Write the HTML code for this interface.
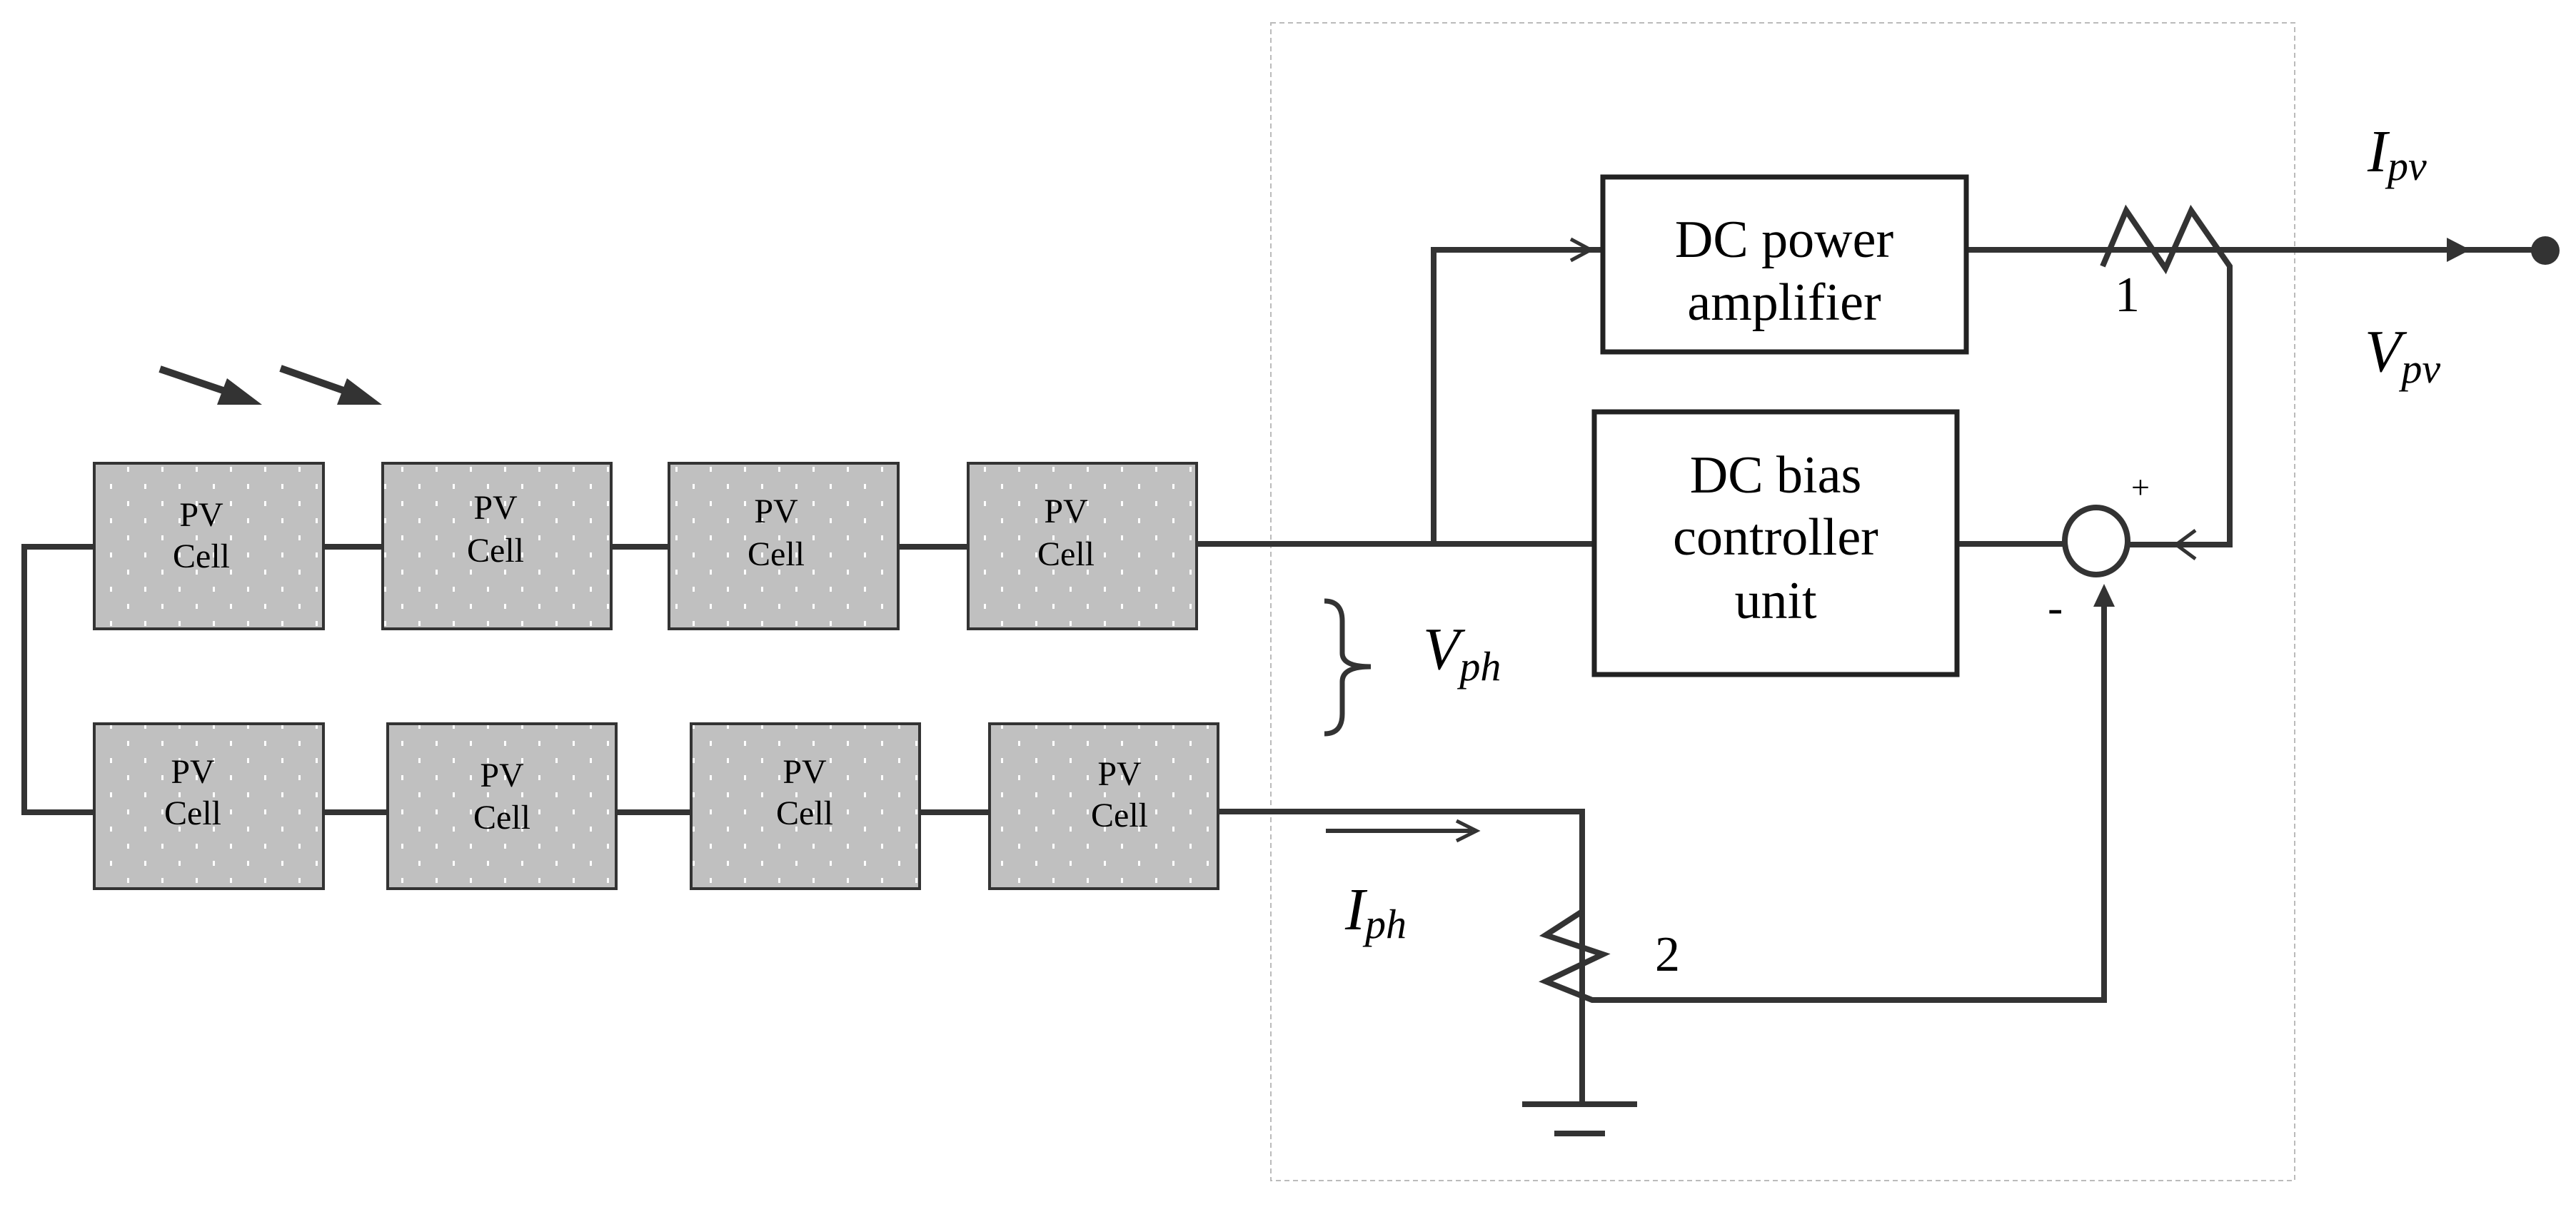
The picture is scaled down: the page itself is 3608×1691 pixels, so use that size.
<!DOCTYPE html>
<html><head><meta charset="utf-8"><style>
html,body{margin:0;padding:0;background:#fff;}
svg{display:block;}
text{font-family:"Liberation Serif",serif;fill:#000;}
</style></head><body>
<svg width="3608" height="1691" viewBox="0 0 3608 1691" xmlns="http://www.w3.org/2000/svg">
<defs>
<pattern id="dots" width="48" height="48" patternUnits="userSpaceOnUse" x="0" y="0">
<rect width="48" height="48" fill="#c0c0c0"/>
<rect x="10" y="6" width="3" height="7" fill="#fff"/>
<rect x="34" y="30" width="3" height="7" fill="#fff"/>
</pattern>
</defs>
<rect x="1780" y="32" width="1434" height="1622" fill="none" stroke="#bbb" stroke-width="2" stroke-dasharray="7,5"/>

<g stroke="#333" stroke-width="8" fill="none">
<polyline points="132,766 34,766 34,1138 132,1138"/>
<line x1="453" y1="766" x2="536" y2="766"/>
<line x1="856" y1="766" x2="937" y2="766"/>
<line x1="1258" y1="766" x2="1356" y2="766"/>
<line x1="1676" y1="762" x2="2233" y2="762"/>
<line x1="453" y1="1138" x2="543" y2="1138"/>
<line x1="863" y1="1138" x2="968" y2="1138"/>
<line x1="1288" y1="1138" x2="1386" y2="1138"/>
<polyline points="1706,1137 2216,1137 2216,1547"/>
<line x1="2132" y1="1547" x2="2293" y2="1547"/>
<line x1="2177" y1="1588" x2="2248" y2="1588"/>
<polyline points="2216,1277 2165,1310 2245,1337 2165,1375 2230,1401 2947,1401 2947,830"/>
<polyline points="2008,762 2008,350 2245,350"/>
<line x1="2754" y1="350" x2="3560" y2="350"/>
<polyline points="2945,373 2978,295 3033,376 3069,295 3123,373 3123,763 2982,763"/>
<line x1="2741" y1="762" x2="2889" y2="762"/>
<ellipse cx="2936" cy="758" rx="44" ry="47"/>
<line x1="1857" y1="1164" x2="2062" y2="1164" stroke-width="6"/>
<path d="M1855,842 Q1880,842 1880,870 L1880,915 Q1880,934 1920,934 Q1880,934 1880,955 L1880,1000 Q1880,1028 1855,1028" stroke-width="7"/>
</g>
<g stroke="#333" stroke-width="5" fill="none">
<polyline points="2200,335 2228,350 2200,365"/>
<polyline points="3075,743 3048,763 3075,783"/>
<polyline points="2040,1150 2068,1164 2040,1178"/>
</g>
<polygon points="3427,333 3460,350 3427,367" fill="#333"/>
<circle cx="3565" cy="351" r="20" fill="#333"/>
<polygon points="2947,818 2932,850 2962,850" fill="#333"/>
<g stroke="#333" stroke-width="10"><line x1="224" y1="517" x2="330" y2="553"/><line x1="393" y1="516" x2="498" y2="553"/></g>
<polygon points="367,567 318,530 304,567" fill="#333"/>
<polygon points="535,567 486,530 472,567" fill="#333"/>

<rect x="2245" y="248" width="509" height="245" fill="#fff" stroke="#222" stroke-width="7"/>
<rect x="2233" y="577" width="508" height="368" fill="#fff" stroke="#222" stroke-width="7"/>
<g font-size="74" text-anchor="middle">
<text x="2499" y="360">DC power</text>
<text x="2499" y="448">amplifier</text>
<text x="2487" y="690">DC bias</text>
<text x="2487" y="777">controller</text>
<text x="2487" y="866">unit</text>
</g>

<g fill="url(#dots)" stroke="#333" stroke-width="4">
<rect x="132" y="649" width="321" height="232"/>
<rect x="536" y="649" width="320" height="232"/>
<rect x="937" y="649" width="321" height="232"/>
<rect x="1356" y="649" width="320" height="232"/>
<rect x="132" y="1014" width="321" height="231"/>
<rect x="543" y="1014" width="320" height="231"/>
<rect x="968" y="1014" width="320" height="231"/>
<rect x="1386" y="1014" width="320" height="231"/>
</g>
<g font-size="48" text-anchor="middle">
<text x="282" y="737">PV</text><text x="282" y="795">Cell</text>
<text x="694" y="727">PV</text><text x="694" y="787">Cell</text>
<text x="1087" y="732">PV</text><text x="1087" y="792">Cell</text>
<text x="1493" y="732">PV</text><text x="1493" y="792">Cell</text>
<text x="270" y="1097">PV</text><text x="270" y="1155">Cell</text>
<text x="703" y="1102">PV</text><text x="703" y="1161">Cell</text>
<text x="1127" y="1097">PV</text><text x="1127" y="1155">Cell</text>
<text x="1568" y="1100">PV</text><text x="1568" y="1158">Cell</text>
</g>

<text x="2962" y="436" font-size="70">1</text>
<text x="2318" y="1360" font-size="70">2</text>
<text x="2985" y="698" font-size="46">+</text>
<text x="2868" y="872" font-size="64" font-family="Liberation Sans">-</text>
<g font-style="italic">
<text x="3316" y="240" font-size="84">I<tspan font-size="58" dy="12">pv</tspan></text>
<text x="3312" y="520" font-size="84">V<tspan font-size="58" dy="16">pv</tspan></text>
<text x="1993" y="937" font-size="84">V<tspan font-size="58" dy="16">ph</tspan></text>
<text x="1884" y="1302" font-size="84">I<tspan font-size="58" dy="12">ph</tspan></text>
</g>
</svg>
</body></html>
